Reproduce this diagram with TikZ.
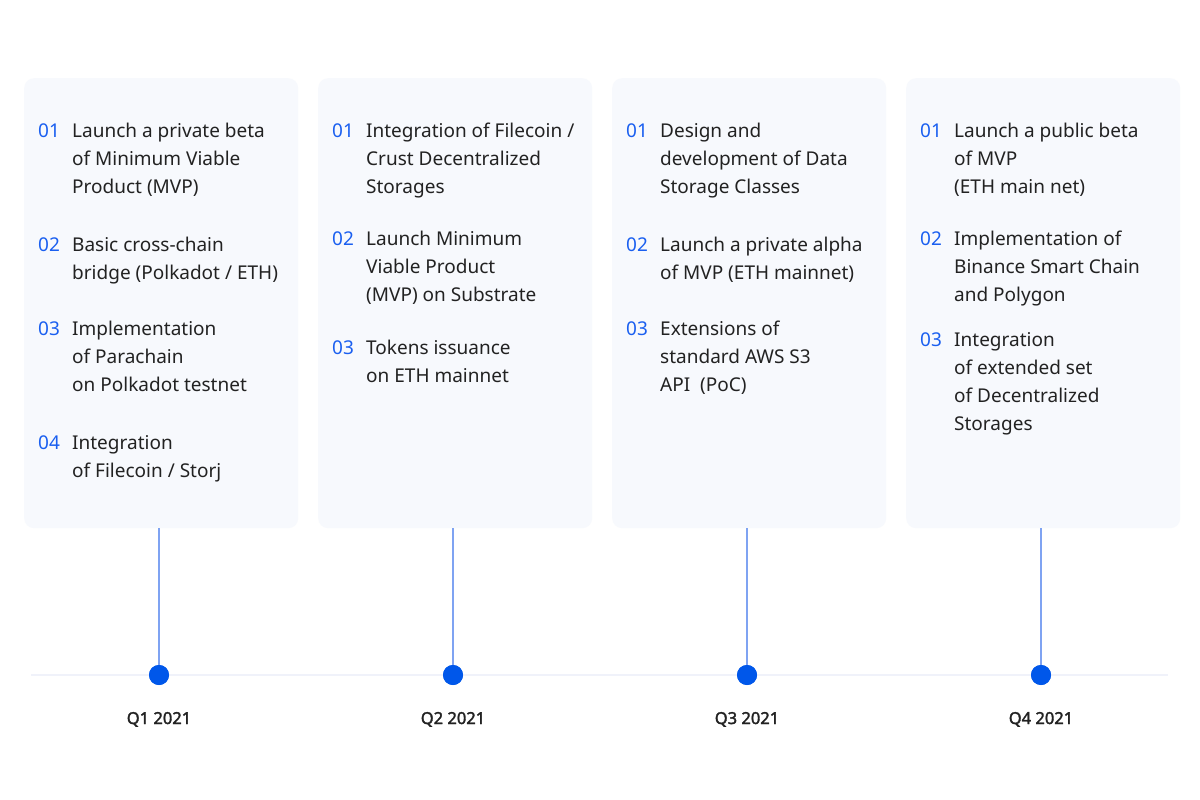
\documentclass[tikz,border=0pt]{standalone}
\usepackage{fontspec}
\setmainfont{Noto Sans}
\newfontfamily\qfont[FakeBold=2]{Noto Sans}
\definecolor{cardbg}{HTML}{F7F9FD}
\definecolor{txt}{HTML}{222222}
\definecolor{numblue}{HTML}{1A5FF0}
\definecolor{dotblue}{HTML}{0057EA}
\definecolor{stem}{HTML}{7FA3F2}
\definecolor{axis}{HTML}{F0F2FA}
\tikzset{
  card/.style={fill=cardbg, draw=none, rounded corners=10pt},
  itm/.style={anchor=base west, inner sep=0pt, text=txt, font=\fontsize{19}{28}\selectfont},
  num/.style={anchor=base west, inner sep=0pt, text=numblue, font=\fontsize{19}{28}\selectfont},
  qlabel/.style={anchor=base, inner sep=0pt, text=txt, font=\qfont\fontsize{16.5}{18}\selectfont},
  stemline/.style={draw=stem, line width=1.5pt},
  dot/.style={circle, fill=dotblue, minimum size=20pt, inner sep=0pt},
  axisline/.style={draw=axis, line width=2pt}
}
\begin{document}
\begin{tikzpicture}[x=1pt,y=-1pt]
\useasboundingbox (0,0) rectangle (1200,800);
\fill[white] (0,0) rectangle (1200,800);
% axis
\coordinate (axL) at (31,675);
\coordinate (axR) at (1168,675);
\draw[axisline] (axL) -- (axR);
% cards
\foreach \L/\q in {24/1,318/2,612/3,906/4}{
  \node[card, minimum width=274pt, minimum height=450pt, anchor=north west, inner sep=0pt] (card\q) at (\L,78) {};
  \coordinate (top\q) at (\L+135,528);
  \node[dot] (dot\q) at (\L+135,675) {};
  \draw[stemline] (top\q) -- (dot\q.center);
  \node[dot] at (dot\q) {};
  \node[qlabel] (q\q) at (\L+135,724) {Q\q{} 2021};
}
% card 1
\node[num] (c1n1) at (38,137) {01};
\node[itm] (c1a1) at (72,137) {Launch a private beta};
\node[itm] (c1a2) at (72,165) {of Minimum Viable};
\node[itm] (c1a3) at (72,193) {Product (MVP)};
\node[num] (c1n2) at (38,251) {02};
\node[itm] (c1b1) at (72,251) {Basic cross-chain};
\node[itm] (c1b2) at (72,279) {bridge (Polkadot / ETH)};
\node[num] (c1n3) at (38,335) {03};
\node[itm] (c1c1) at (72,335) {Implementation};
\node[itm] (c1c2) at (72,363) {of Parachain};
\node[itm] (c1c3) at (72,391) {on Polkadot testnet};
\node[num] (c1n4) at (38,449) {04};
\node[itm] (c1d1) at (72,449) {Integration};
\node[itm] (c1d2) at (72,477) {of Filecoin / Storj};
% card 2
\node[num] (c2n1) at (332,137) {01};
\node[itm] (c2a1) at (366,137) {Integration of Filecoin /};
\node[itm] (c2a2) at (366,165) {Crust Decentralized};
\node[itm] (c2a3) at (366,193) {Storages};
\node[num] (c2n2) at (332,245) {02};
\node[itm] (c2b1) at (366,245) {Launch Minimum};
\node[itm] (c2b2) at (366,273) {Viable Product};
\node[itm] (c2b3) at (366,301) {(MVP) on Substrate};
\node[num] (c2n3) at (332,354) {03};
\node[itm] (c2c1) at (366,354) {Tokens issuance};
\node[itm] (c2c2) at (366,382) {on ETH mainnet};
% card 3
\node[num] (c3n1) at (626,137) {01};
\node[itm] (c3a1) at (660,137) {Design and};
\node[itm] (c3a2) at (660,165) {development of Data};
\node[itm] (c3a3) at (660,193) {Storage Classes};
\node[num] (c3n2) at (626,251) {02};
\node[itm] (c3b1) at (660,251) {Launch a private alpha};
\node[itm] (c3b2) at (660,279) {of MVP (ETH mainnet)};
\node[num] (c3n3) at (626,335) {03};
\node[itm] (c3c1) at (660,335) {Extensions of};
\node[itm] (c3c2) at (660,363) {standard AWS S3};
\node[itm] (c3c3) at (660,391) {API\ \ (PoC)};
% card 4
\node[num] (c4n1) at (920,137) {01};
\node[itm] (c4a1) at (954,137) {Launch a public beta};
\node[itm] (c4a2) at (954,165) {of MVP};
\node[itm] (c4a3) at (954,193) {(ETH main net)};
\node[num] (c4n2) at (920,245) {02};
\node[itm] (c4b1) at (954,245) {Implementation of};
\node[itm] (c4b2) at (954,273) {Binance Smart Chain};
\node[itm] (c4b3) at (954,301) {and Polygon};
\node[num] (c4n3) at (920,346) {03};
\node[itm] (c4c1) at (954,346) {Integration};
\node[itm] (c4c2) at (954,374) {of extended set};
\node[itm] (c4c3) at (954,402) {of Decentralized};
\node[itm] (c4c4) at (954,430) {Storages};
\end{tikzpicture}
\end{document}
